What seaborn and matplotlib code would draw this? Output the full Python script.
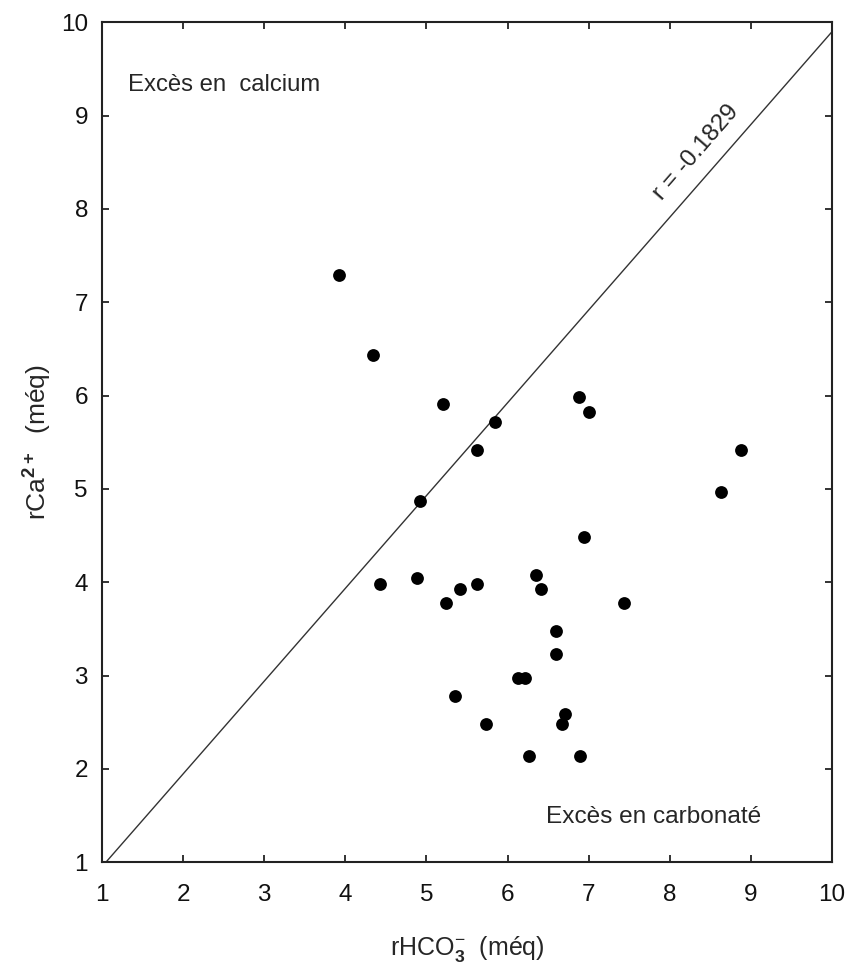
import pandas as pd
import matplotlib
matplotlib.use("Agg")
import matplotlib.pyplot as plt
import seaborn as sns

# values
hco3 = [3.92, 4.34, 5.20, 5.84, 5.62, 4.92, 6.88, 7.01, 6.94, 8.88, 8.63,
        7.44, 4.43, 4.88, 5.41, 5.63, 5.24, 6.35, 6.41, 6.60, 6.60, 6.13,
        6.22, 5.35, 5.73, 6.71, 6.67, 6.26, 6.89]
ca = [7.29, 6.43, 5.91, 5.72, 5.42, 4.87, 5.98, 5.82, 4.49, 5.42, 4.97,
      3.78, 3.98, 4.04, 3.93, 3.98, 3.78, 4.08, 3.93, 3.48, 3.23, 2.97,
      2.97, 2.78, 2.48, 2.59, 2.48, 2.14, 2.14]
line_x = [1, 10]
line_y = [0.95, 9.9]
ticks = list(range(1, 11))
r_label = "r = -0.1829"


def main():
    sns.set_style("ticks")
    plt.rcParams["font.family"] = ["Liberation Sans", "DejaVu Sans"]
    plt.rcParams["mathtext.fontset"] = "custom"
    plt.rcParams["mathtext.rm"] = "Liberation Sans"
    plt.rcParams["mathtext.bf"] = "Liberation Sans:bold"

    df = pd.DataFrame({"rHCO3": hco3, "rCa": ca})

    fig = plt.figure(figsize=(8.49, 9.72), dpi=100)
    ax = fig.add_axes([0.120, 0.113, 0.860, 0.864])

    ax.plot(line_x, line_y, color="#333333", lw=1.0)
    sns.scatterplot(data=df, x="rHCO3", y="rCa", ax=ax, color="black",
                    s=85, linewidth=0, zorder=3)

    ax.set_xlim(1, 10)
    ax.set_ylim(1, 10)
    ax.set_xticks(ticks)
    ax.set_yticks(ticks)
    ax.tick_params(direction="in", length=5, width=1.2, top=True, right=True,
                   labelsize=17.5, colors="#111111")
    ax.tick_params(axis="x", pad=16)
    ax.tick_params(axis="y", pad=10)
    for sp in ax.spines.values():
        sp.set_linewidth(1.5)
        sp.set_color("#222222")

    ax.set_xlabel(r"rHCO$_{\mathbf{3}}^{-}$  (méq)", fontsize=18, labelpad=20)
    ax.set_ylabel(r"rCa$^{\mathbf{2+}}$  (méq)", fontsize=19, labelpad=6)

    ax.text(1.32, 9.33, "Excès en  calcium", fontsize=17.2, va="center")
    ax.text(6.47, 1.48, "Excès en carbonaté", fontsize=17.6, va="center")
    ax.text(8.32, 8.60, r_label, fontsize=17.5, rotation=49,
            ha="center", va="center", rotation_mode="anchor")

    fig.savefig("out.png", dpi=100)


if __name__ == "__main__":
    main()
